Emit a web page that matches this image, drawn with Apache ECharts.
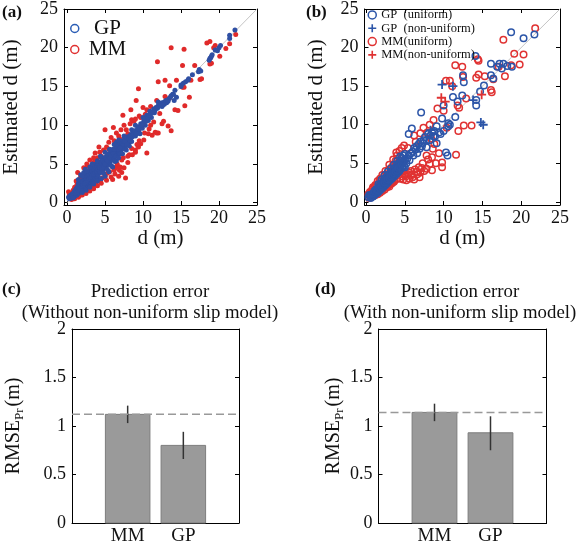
<!DOCTYPE html>
<html><head><meta charset="utf-8">
<script src="https://cdn.jsdelivr.net/npm/echarts@6/dist/echarts.min.js"></script>
<style>html,body{margin:0;padding:0;background:#fff}#c{width:579px;height:546px}</style>
</head><body><div id="c"></div>
<script>
const FONT = 'Liberation Serif';
const dTicks = [0, 5, 10, 15, 20, 25];
const rmseTicks = [0, 0.5, 1, 1.5, 2];
const barCats = ['MM', 'GP'];
const barPos = [1, 2];
const rmseC = [1.12, 0.80];
const errLowC = [1.03, 0.66];
const errHighC = [1.21, 0.94];
const rmseD = [1.14, 0.93];
const errLowD = [1.05, 0.75];
const errHighD = [1.23, 1.10];
const diag = [[0, 0], [25, 25]];

const gpA = [[0.2,0.7],[0.3,0.5],[0.4,0.9],[0.5,0.6],[0.5,1.0],[0.6,0.8],[0.7,1.1],[0.7,0.6],[0.8,0.9],[0.9,1.3],[0.9,0.7],[1.0,1.0],[1.0,1.5],[1.1,0.9],[1.2,1.3],[1.2,1.8],[1.3,1.0],[1.4,1.5],[1.4,2.1],[1.5,1.2],[1.5,2.5],[1.6,1.7],[1.6,2.3],[1.7,1.4],[1.8,1.9],[1.8,2.6],[1.9,1.5],[2.0,2.1],[2.0,2.8],[2.0,1.5],[2.1,1.7],[2.2,2.4],[2.2,3.0],[2.3,1.9],[2.4,2.6],[2.4,3.3],[2.5,2.0],[2.5,3.8],[2.6,2.8],[2.6,3.5],[2.7,2.2],[2.8,3.0],[2.8,3.8],[2.9,2.4],[3.0,3.2],[3.0,4.0],[3.0,2.3],[3.1,2.6],[3.2,3.4],[3.2,4.2],[3.3,2.8],[3.4,3.6],[3.4,4.5],[3.5,3.0],[3.5,4.9],[3.6,3.8],[3.6,4.8],[3.7,3.2],[3.8,4.0],[3.8,5.0],[3.9,3.4],[4.0,4.2],[4.0,4.6],[4.0,3.3],[4.1,3.6],[4.2,4.4],[4.3,5.2],[4.4,3.9],[4.5,4.7],[4.5,5.9],[4.6,5.5],[4.7,4.2],[4.8,5.0],[4.9,5.8],[5.0,4.6],[5.1,5.3],[5.2,6.0],[5.3,4.9],[5.4,5.6],[5.5,6.3],[5.5,5.0],[5.6,5.2],[5.7,5.9],[5.8,6.6],[5.9,5.5],[6.0,6.2],[6.0,5.5],[6.1,6.9],[6.2,5.8],[6.3,6.5],[6.4,7.1],[6.5,6.1],[6.5,7.8],[6.5,5.4],[6.6,6.8],[6.7,7.4],[6.8,6.4],[6.9,7.1],[7.0,7.6],[7.0,6.3],[7.1,6.8],[7.2,7.4],[7.3,8.0],[7.4,7.0],[7.5,7.6],[7.5,8.6],[7.6,8.3],[7.7,7.3],[7.8,7.9],[8.0,8.5],[8.1,7.6],[8.2,8.2],[8.2,7.3],[8.4,8.8],[8.5,7.9],[8.5,9.4],[8.6,8.5],[8.8,9.0],[9.0,8.6],[9.0,10.0],[9.2,9.3],[9.4,9.8],[9.5,9.0],[9.6,8.9],[9.7,10.2],[9.9,9.6],[10.0,11.0],[10.1,10.5],[10.3,10.0],[10.5,11.3],[10.7,10.6],[10.9,11.8],[11.1,11.0],[11.4,12.1],[11.5,11.6],[11.7,12.3],[12.0,12.5],[12.0,13.0],[12.2,12.6],[12.5,12.4],[12.5,12.9],[12.8,12.7],[12.8,13.0],[13.1,12.9],[13.4,13.4],[13.7,13.8],[13.9,14.0],[14.0,14.0],[14.2,14.5],[14.4,13.6],[14.1,13.2],[15.0,15.2],[15.0,15.0],[15.3,15.4],[15.6,15.6],[15.9,15.8],[16.0,16.0],[16.5,16.5],[17.3,16.9],[17.4,17.2],[17.6,17.0],[18.7,18.4],[18.8,18.6],[18.9,18.7],[19.0,18.9],[19.1,19.1],[19.5,19.7],[19.8,19.6],[20.0,20.0],[20.2,20.3],[21.4,21.6],[21.4,21.2],[22.1,22.3],
[0.3,0.8],[0.4,0.6],[0.6,1.0],[0.8,0.7],[0.8,1.2],[1.1,1.2],[1.1,1.6],[1.3,1.4],[1.3,1.9],[1.5,1.6],[1.5,2.0],[1.7,1.8],[1.7,2.3],[1.9,2.1],[1.9,2.5],[2.1,2.3],[2.1,2.7],[2.3,2.5],[2.3,3.0],[2.5,2.7],[2.5,3.2],[2.7,2.9],[2.7,3.5],[2.9,3.1],[2.9,3.7],[3.1,3.3],[3.1,3.9],[3.3,3.5],[3.3,4.1],[3.5,3.7],[3.5,4.3],[3.7,3.9],[3.7,4.6],[3.9,4.1],[3.9,4.8],[4.1,4.3],[4.1,5.0],[4.3,4.5],[4.3,4.0],[4.5,5.2],[4.6,4.4],[4.7,5.4],[4.8,4.6],[4.9,5.2],[5.0,5.0],[5.1,5.8],[5.2,5.5],[5.3,5.4],[5.4,6.2],[5.6,5.8],[5.8,6.1],[5.9,6.8],[6.1,6.3],[6.3,6.9],[6.4,6.0],[6.6,7.2],[6.8,6.9],[7.0,7.1],[7.2,7.8],[7.4,7.5],[7.6,7.9],[7.8,8.4],[7.9,7.5],[8.1,8.3],[8.3,8.6],[8.4,8.0],[8.7,8.9],[8.9,9.3],[9.1,8.9],[9.3,9.6],[9.5,9.5],[9.8,10.0],[10.0,10.2],[10.2,10.8],[10.4,10.5],[10.6,11.0],[10.8,11.3],[11.0,11.5],[11.3,11.6],[11.6,12.0],[11.9,12.2],[12.3,12.7],[12.6,12.6],[13.0,13.2],[13.3,13.1],[13.6,13.6],
[1.5,3.0],[1.8,3.6],[2.0,3.4],[2.2,3.9],[2.4,4.3],[2.6,4.1],[2.0,1.3],[2.5,1.6],[3.0,2.0],[3.5,2.4],[4.0,2.8],[4.5,3.1],[5.0,3.4],[5.5,4.0],[6.0,4.6],[3.0,4.6],[3.3,5.0],[4.0,5.4],[4.4,6.0],[5.0,6.5],[5.6,6.9],[6.2,7.5],[6.8,8.1],[4.8,3.8],[5.3,4.3],[5.8,4.8],[6.3,5.3],[6.8,5.8],[7.3,6.3],[7.8,6.8]];

const mmA = [[0.2,1.4],[0.3,1.0],[0.5,1.2],[0.6,0.4],[0.8,1.6],[1.0,0.5],[1.0,1.3],[1.0,2.0],[1.2,0.8],[1.3,2.3],[1.4,3.9],[1.5,0.9],[1.6,2.6],[1.8,1.0],[2.0,2.4],[2.0,3.0],[2.2,1.3],[2.4,3.6],[2.5,1.5],[2.7,4.7],[2.8,1.8],[3.0,3.6],[3.0,4.2],[3.2,2.0],[3.3,4.8],[3.5,2.2],[3.5,5.8],[3.6,5.3],[3.7,6.4],[3.8,2.6],[4.0,4.4],[4.0,5.8],[4.2,7.2],[4.2,2.8],[4.4,2.8],[4.5,6.0],[4.6,3.2],[4.8,6.8],[5.0,3.3],[5.0,3.6],[5.0,5.6],[5.0,9.4],[5.2,7.2],[5.3,3.8],[5.5,7.8],[5.6,4.0],[5.8,8.4],[6.0,4.6],[6.0,6.8],[6.1,9.7],[6.2,4.2],[6.3,3.7],[6.4,4.5],[6.5,9.0],[6.6,4.8],[6.6,5.0],[6.8,3.4],[6.9,4.2],[7.0,7.3],[7.0,8.2],[7.1,9.4],[7.2,3.9],[7.2,5.5],[7.35,11.3],[7.5,4.5],[7.5,10.0],[7.6,7.0],[7.7,3.2],[8.0,5.2],[8.0,8.9],[8.2,6.2],[8.4,12.0],[8.5,7.0],[8.5,10.7],[8.8,10.5],[9.0,6.5],[9.0,6.8],[9.1,13.2],[9.4,14.7],[9.4,7.2],[9.5,8.0],[9.5,11.2],[9.7,7.6],[9.7,11.0],[10.0,12.3],[10.1,8.1],[10.2,9.0],[10.5,6.4],[10.5,12.0],[10.7,8.9],[10.8,9.5],[11.0,10.0],[11.2,8.7],[11.5,11.9],[11.6,9.1],[11.8,9.0],[11.8,13.2],[11.9,18.2],[12.0,15.6],[12.0,9.0],[12.2,11.5],[12.5,10.2],[12.7,10.5],[12.9,13.7],[12.9,15.8],[13.3,9.9],[13.5,13.5],[13.5,15.1],[13.7,9.3],[13.7,20.0],[14.2,12.0],[14.4,15.8],[14.6,11.9],[15.2,17.7],[15.2,14.9],[15.4,19.8],[15.4,14.9],[15.5,12.5],[16.1,13.6],[16.3,15.8],[16.8,17.7],[17.5,15.9],[17.7,16.0],[18.4,20.6],[18.8,20.8],[18.8,17.9],[19.0,18.0],[19.3,20.0],[19.5,20.3],[20.1,18.9],[20.9,19.9],[21.4,20.5],[22.2,21.7],
[1.5,0.7],[2.0,1.0],[2.5,1.2],[3.0,1.5],[3.5,1.8],[4.0,2.2],[2.2,4.5],[2.6,5.0],[3.0,5.5],[1.8,3.4],[1.2,2.8],[4.5,2.5],[5.2,2.9],[5.8,3.3],[6.0,3.0],[7.0,4.6],[7.4,5.8],[8.0,6.0],[8.6,6.2],[9.2,7.5],[4.3,6.5],[5.5,6.9],[6.2,8.0],[6.8,8.6],[7.8,9.4],[8.3,10.2],[9.0,10.8],[10.3,11.4],[11.0,12.4],[11.4,10.4]];

const gpUniB = [[0.3,0.6],[0.5,0.8],[0.6,0.5],[0.8,1.0],[0.9,0.7],[1.0,1.2],[1.1,0.9],[1.2,1.5],[1.3,1.1],[1.4,1.7],[1.5,1.2],[1.6,1.9],[1.7,1.4],[1.8,2.2],[1.9,1.6],[2.0,2.4],[2.1,1.8],[2.2,2.7],[2.3,2.0],[2.4,3.0],[2.5,2.2],[2.6,3.2],[2.7,2.4],[2.8,3.4],[2.9,2.6],[3.0,3.6],[3.1,2.8],[3.2,3.8],[3.3,3.0],[3.4,4.0],[3.5,3.2],[3.6,4.3],[3.7,3.4],[3.8,4.5],[3.9,3.6],[4.0,4.8],[4.1,3.8],[4.2,5.0],[4.3,4.0],[4.4,5.3],[4.5,4.3],[4.6,5.7],[4.7,4.5],[4.8,6.0],[4.9,4.7],[5.0,5.5],[5.2,5.0],[5.5,6.0],[5.5,8.8],[5.8,6.3],[5.9,9.5],[6.0,6.5],[6.2,7.0],[6.5,7.2],[6.6,6.3],[6.8,7.5],[7.0,7.8],[7.1,11.6],[7.2,7.2],[7.4,8.0],[7.6,8.4],[7.8,7.1],[8.0,8.8],[8.2,8.0],[8.5,9.0],[8.7,8.5],[8.9,8.5],[9.1,9.8],[9.1,7.6],[9.4,9.0],[9.6,8.8],[9.8,10.8],[10.0,12.5],[10.0,9.2],[10.3,6.4],[10.5,6.0],[10.6,10.2],[10.6,9.8],[10.8,10.0],[11.2,13.6],[11.5,11.0],[11.8,13.0],[12.4,13.8],[12.5,16.4],[12.6,15.5],[14.1,18.9],[14.2,13.2],[14.2,12.5],[14.7,14.3],[15.2,15.1],[16.1,17.9],[16.1,16.4],[16.4,16.0],[16.9,17.5],[17.2,17.9],[17.5,17.3],[17.7,17.9],[18.2,17.6],[18.7,22.0],[18.8,17.5],[20.3,21.2],[21.7,21.7],
[0.4,0.9],[0.7,0.7],[0.9,1.1],[1.1,1.4],[1.3,1.6],[1.5,1.5],[1.6,2.3],[1.8,1.8],[2.0,2.0],[2.0,2.9],[2.2,2.2],[2.4,2.5],[2.4,3.5],[2.6,2.7],[2.8,2.9],[2.8,3.9],[3.0,3.1],[3.2,3.3],[3.2,4.3],[3.4,3.5],[3.6,3.7],[3.6,4.8],[3.8,3.9],[4.0,4.1],[4.0,5.3],[4.2,4.4],[4.4,4.6],[4.4,5.9],[4.6,4.9],[4.8,5.1],[5.0,4.5],[5.0,6.2],[5.3,5.6],[5.6,5.4],[6.1,6.0],[6.4,6.8],[6.9,6.9],[7.3,7.6],[7.8,8.0],[8.3,8.6],[8.8,9.2]];

const gpNonB = [[8.3,9.3],[9.8,15.2],[11.2,15.0],[13.8,13.2],[14.8,10.3],[15.1,10.0]];

const mmUniB = [[0.3,1.0],[0.5,1.3],[0.6,0.7],[0.8,1.6],[1.0,0.8],[1.1,1.9],[1.3,1.1],[1.4,2.2],[1.6,1.3],[1.7,2.6],[1.9,1.5],[2.0,2.9],[2.2,1.7],[2.3,3.3],[2.5,1.9],[2.6,3.6],[2.8,2.1],[2.9,4.1],[3.1,2.3],[3.2,4.4],[3.4,2.5],[3.5,4.8],[3.7,2.8],[3.8,5.3],[3.9,6.4],[4.0,3.0],[4.1,5.6],[4.3,6.6],[4.4,3.0],[4.6,7.0],[4.7,3.3],[4.9,7.3],[5.0,3.5],[5.2,2.8],[5.4,3.6],[5.6,3.0],[5.8,4.0],[6.0,3.2],[6.2,8.6],[6.3,4.2],[6.6,3.6],[6.8,4.5],[7.0,8.9],[7.0,3.8],[7.3,5.0],[7.5,4.0],[7.8,6.0],[8.0,5.5],[8.2,10.0],[8.4,8.2],[8.5,4.1],[8.5,5.8],[8.6,6.9],[8.7,10.6],[9.0,5.0],[9.2,12.1],[9.4,6.3],[9.8,5.1],[9.8,4.5],[10.0,11.8],[10.3,15.7],[10.4,9.6],[10.8,15.7],[11.1,15.0],[11.5,17.7],[11.6,6.1],[11.9,9.2],[11.8,12.5],[12.0,12.2],[12.4,17.5],[12.5,16.2],[12.6,9.9],[12.9,13.4],[13.6,9.9],[14.2,16.1],[14.4,18.5],[14.5,18.3],[14.5,16.5],[15.3,16.3],[16.1,14.5],[16.2,14.2],[16.4,15.9],[17.1,17.5],[17.7,21.0],[17.9,16.3],[18.7,17.7],[19.1,19.2],[19.8,17.8],[20.3,19.1],[21.8,22.5],
[0.4,0.5],[0.7,1.2],[0.9,1.9],[1.2,0.9],[1.2,2.2],[1.5,1.0],[1.5,2.7],[1.8,1.2],[1.8,3.0],[2.1,1.4],[2.1,3.5],[2.4,1.6],[2.7,1.9],[3.0,2.0],[3.3,2.4],[3.6,2.6],[3.0,4.8],[3.5,5.5],[4.2,3.5],[4.5,3.8],[4.8,2.9],[5.1,3.3],[5.5,3.8],[5.9,3.5],[6.2,2.9],[6.5,3.9],[6.9,3.2],[7.2,4.4],[7.8,4.3],[8.2,4.9],[2.5,4.0],[4.0,6.0],[5.4,7.0],[6.4,7.8],[7.4,9.6],[7.9,9.0],[8.8,7.5]];

const mmNonB = [[9.7,13.5],[10.2,13.0],[14.9,13.9]];

const BLUE_A = '#2f4fa3', RED_A = '#e02a2a';
const BLUE_B = '#2c55a8', RED_B = '#e03232';
const PLUS = 'path://M4,0h2v4h4v2h-4v4h-2v-4h-4v-2h4z';
const txt = { fontFamily: FONT, color: '#111' };

const grids = [
  { left: 58, top: 7.5, width: 199, height: 197.5 },
  { left: 364.5, top: 8, width: 195.5, height: 197 },
  { left: 72, top: 329, width: 167, height: 196.5 },
  { left: 378.5, top: 329, width: 168, height: 197 }
];

function xPair(g, min, max, ticks, labelOpt, name, nameGap) {
  const main = {
    type: 'value', gridIndex: g, min, max, position: 'bottom',
    axisLine: { show: true, onZero: false, lineStyle: { color: '#000', width: 1 } },
    axisTick: { show: !!ticks, inside: true, length: 4, customValues: ticks || [], lineStyle: { color: '#000' } },
    axisLabel: Object.assign({ fontFamily: FONT, fontSize: 18, color: '#111', margin: 4 }, labelOpt),
    splitLine: { show: false },
    name: name || '', nameLocation: 'middle', nameGap: nameGap || 20,
    nameTextStyle: { fontFamily: FONT, fontSize: 21, color: '#111' }
  };
  const mirror = {
    type: 'value', gridIndex: g, min, max, position: 'top',
    axisLine: { show: true, onZero: false, lineStyle: { color: '#000', width: 1 } },
    axisTick: { show: !!ticks, inside: true, length: 4, customValues: ticks || [], lineStyle: { color: '#000' } },
    axisLabel: { show: false }, splitLine: { show: false }
  };
  return [main, mirror];
}
function yPair(g, min, max, ticks, name, nameGap, nameStyle) {
  const main = {
    type: 'value', gridIndex: g, min, max, position: 'left',
    axisLine: { show: true, onZero: false, lineStyle: { color: '#000', width: 1 } },
    axisTick: { show: true, inside: true, length: 4, customValues: ticks, lineStyle: { color: '#000' } },
    axisLabel: { customValues: ticks, fontFamily: FONT, fontSize: 18, color: '#111', margin: 6 },
    splitLine: { show: false },
    name, nameLocation: 'middle', nameGap, nameRotate: 90,
    nameTextStyle: nameStyle || { fontFamily: FONT, fontSize: 21, color: '#111' }
  };
  const mirror = {
    type: 'value', gridIndex: g, min, max, position: 'right',
    axisLine: { show: true, onZero: false, lineStyle: { color: '#000', width: 1 } },
    axisTick: { show: true, inside: true, length: 4, customValues: ticks, lineStyle: { color: '#000' } },
    axisLabel: { show: false }, splitLine: { show: false }
  };
  return [main, mirror];
}

const rmseName = { fontFamily: FONT, fontSize: 20, color: '#111',
  rich: { s: { fontFamily: FONT, fontSize: 13, color: '#111', padding: [12, 2, 0, 0] } } };

const xAxes = [
  ...xPair(0, -0.4, 25, dTicks, { customValues: dTicks }, 'd (m)', 20),
  ...xPair(1, -0.2, 25, dTicks, { customValues: dTicks }, 'd (m)', 20),
  ...xPair(2, 0, 3, null, { customValues: barPos, fontSize: 19, margin: 4, formatter: v => barCats[barPos.indexOf(v)] }),
  ...xPair(3, 0, 3, null, { customValues: barPos, fontSize: 19, margin: 4, formatter: v => barCats[barPos.indexOf(v)] })
];
const yAxes = [
  ...yPair(0, -0.3, 25, dTicks, 'Estimated d (m)', 42),
  ...yPair(1, -0.4, 25, dTicks, 'Estimated d (m)', 38),
  ...yPair(2, 0, 2, rmseTicks, 'RMSE{s|Pr}(m)', 46, rmseName),
  ...yPair(3, 0, 2, rmseTicks, 'RMSE{s|Pr}(m)', 32, rmseName)
];

function barItem(params, api) {
  const x = api.value(0), y = api.value(1);
  const p0 = api.coord([x - 0.4, y]);
  const p1 = api.coord([x + 0.4, 0]);
  return { type: 'rect', shape: { x: p0[0], y: p0[1], width: p1[0] - p0[0], height: p1[1] - p0[1] },
    style: { fill: '#9a9a9a', stroke: '#7d7d7d', lineWidth: 1 } };
}
function errItem(params, api) {
  const x = api.value(0);
  const a = api.coord([x, api.value(1)]);
  const b = api.coord([x, api.value(2)]);
  return { type: 'line', shape: { x1: a[0], y1: a[1], x2: b[0], y2: b[1] },
    style: { stroke: '#333', lineWidth: 1.5 } };
}

function barSeries(g, vals, lo, hi) {
  return [
    { type: 'custom', name: 'bars' + g, xAxisIndex: 2 * g, yAxisIndex: 2 * g, renderItem: barItem,
      data: barPos.map((p, i) => [p, vals[i]]), z: 2 },
    { type: 'custom', name: 'err' + g, xAxisIndex: 2 * g, yAxisIndex: 2 * g, renderItem: errItem,
      data: barPos.map((p, i) => [p, lo[i], hi[i]]), z: 3 },
    { type: 'line', name: 'ref' + g, xAxisIndex: 2 * g, yAxisIndex: 2 * g, symbol: 'none',
      data: [[0, vals[0]], [3, vals[0]]], lineStyle: { color: '#999', width: 1.5, type: [8, 4] }, z: 4, silent: true }
  ];
}

const openStyle = c => ({ color: 'rgba(0,0,0,0)', borderColor: c, borderWidth: 1.5, opacity: 1 });

const series = [
  { type: 'line', xAxisIndex: 0, yAxisIndex: 0, data: diag, symbol: 'none', lineStyle: { color: '#c4c4c4', width: 1 }, z: 1, silent: true },
  { type: 'scatter', name: 'MM', xAxisIndex: 0, yAxisIndex: 0, data: mmA, symbolSize: 5, itemStyle: { color: RED_A, opacity: 1 }, z: 2 },
  { type: 'scatter', name: 'GP', xAxisIndex: 0, yAxisIndex: 0, data: gpA, symbolSize: 5, itemStyle: { color: BLUE_A, opacity: 1 }, z: 3 },
  { type: 'line', xAxisIndex: 2, yAxisIndex: 2, data: diag, symbol: 'none', lineStyle: { color: '#c4c4c4', width: 1 }, z: 1, silent: true },
  { type: 'scatter', name: 'MM(uniform)', xAxisIndex: 2, yAxisIndex: 2, data: mmUniB, symbol: 'circle', symbolSize: 6.5, itemStyle: openStyle(RED_B), z: 2 },
  { type: 'scatter', name: 'GP  (uniform)', xAxisIndex: 2, yAxisIndex: 2, data: gpUniB, symbol: 'circle', symbolSize: 6.5, itemStyle: openStyle(BLUE_B), z: 3 },
  { type: 'scatter', name: 'MM(non-uniform)', xAxisIndex: 2, yAxisIndex: 2, data: mmNonB, symbol: PLUS, symbolSize: 9, itemStyle: { color: RED_B, opacity: 1 }, z: 4 },
  { type: 'scatter', name: 'GP  (non-uniform)', xAxisIndex: 2, yAxisIndex: 2, data: gpNonB, symbol: PLUS, symbolSize: 9, itemStyle: { color: BLUE_B, opacity: 1 }, z: 4 },
  ...barSeries(2, rmseC, errLowC, errHighC),
  ...barSeries(3, rmseD, errLowD, errHighD)
];

const option = {
  animation: false,
  backgroundColor: '#fff',
  grid: grids,
  xAxis: xAxes,
  yAxis: yAxes,
  title: [
    { text: '(a)', left: 2, top: 4, padding: 0, textStyle: Object.assign({ fontSize: 17, fontWeight: 'bold' }, txt) },
    { text: '(b)', left: 306, top: 4, padding: 0, textStyle: Object.assign({ fontSize: 17, fontWeight: 'bold' }, txt) },
    { text: '(c)', left: 2, top: 281, padding: 0, textStyle: Object.assign({ fontSize: 17, fontWeight: 'bold' }, txt) },
    { text: '(d)', left: 315, top: 281, padding: 0, textStyle: Object.assign({ fontSize: 17, fontWeight: 'bold' }, txt) },
    { text: 'Prediction error\n(Without non-uniform slip model)', left: 150, top: 281, textAlign: 'center', padding: 0,
      textStyle: Object.assign({ fontSize: 18.8, fontWeight: 'normal', lineHeight: 21.6 }, txt) },
    { text: 'Prediction error\n(With non-uniform slip model)', left: 460, top: 281, textAlign: 'center', padding: 0,
      textStyle: Object.assign({ fontSize: 18.8, fontWeight: 'normal', lineHeight: 21.6 }, txt) }
  ],
  legend: [
    { orient: 'vertical', left: 70, top: 18, padding: 0, itemWidth: 8, itemHeight: 8, itemGap: 0, selectedMode: false,
      formatter: n => (n === 'GP' ? ' GP' : n),
      textStyle: { fontFamily: FONT, fontSize: 21, color: '#111', lineHeight: 20, padding: [0, 0, 0, 5] },
      data: [
        { name: 'GP', icon: 'circle', itemStyle: { color: 'rgba(0,0,0,0)', borderColor: '#2a5db5', borderWidth: 1.5 } },
        { name: 'MM', icon: 'circle', itemStyle: { color: 'rgba(0,0,0,0)', borderColor: '#e03030', borderWidth: 1.5 } }
      ] },
    { orient: 'vertical', left: 367.5, top: 8.3, padding: 0, itemWidth: 8, itemHeight: 8, itemGap: 0, selectedMode: false,
      textStyle: { fontFamily: FONT, fontSize: 12.5, color: '#111', lineHeight: 13.3 },
      data: [
        { name: 'GP  (uniform)', icon: 'circle', itemStyle: { color: 'rgba(0,0,0,0)', borderColor: BLUE_B, borderWidth: 1.5 } },
        { name: 'GP  (non-uniform)', icon: PLUS, itemStyle: { color: BLUE_B } },
        { name: 'MM(uniform)', icon: 'circle', itemStyle: { color: 'rgba(0,0,0,0)', borderColor: RED_B, borderWidth: 1.5 } },
        { name: 'MM(non-uniform)', icon: PLUS, itemStyle: { color: RED_B } }
      ] }
  ],
  series
};

const chart = echarts.init(document.getElementById('c'), null, { renderer: 'canvas' });
chart.setOption(option);
</script>
</body></html>
